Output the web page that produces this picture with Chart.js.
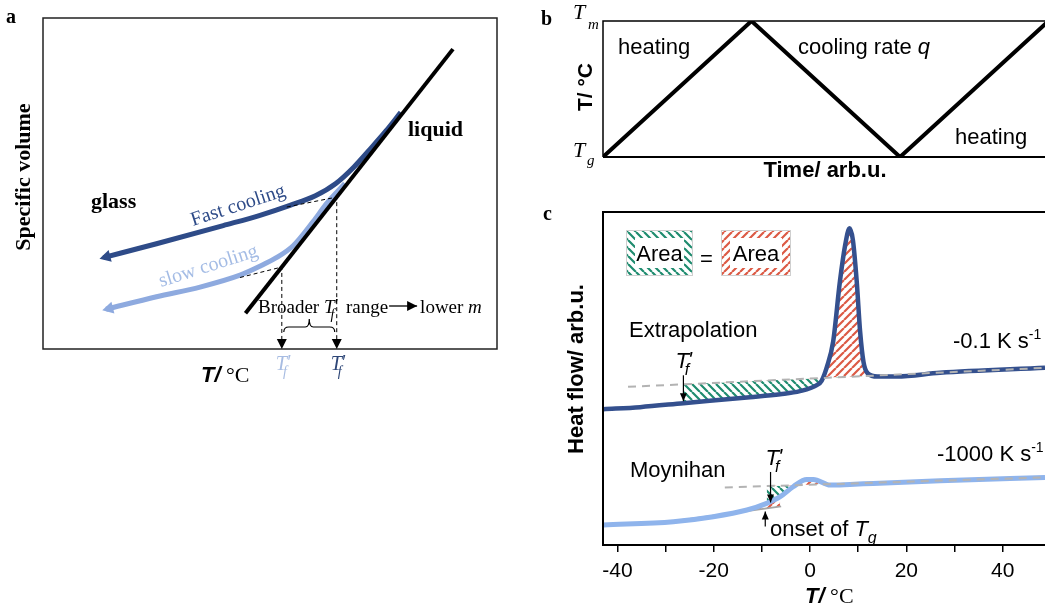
<!DOCTYPE html>
<html>
<head>
<meta charset="utf-8">
<title>Glass transition schematic</title>
<script src="https://cdn.jsdelivr.net/npm/chart.js@4.4.1/dist/chart.umd.min.js"></script>
<style>
  body { margin: 0; background: #fff; }
  #wrap { position: relative; width: 1045px; height: 613px; overflow: hidden; }
  canvas { position: absolute; }
</style>
</head>
<body>
<div id="wrap">
  <canvas id="chartA" width="540" height="400" style="left:0;top:0"></canvas>
  <canvas id="chartB" width="505" height="200" style="left:540px;top:0"></canvas>
  <canvas id="chartC" width="505" height="413" style="left:540px;top:200px"></canvas>
</div>
<script>
const SANS = '"Liberation Sans", Arial, sans-serif';
const SERIF = '"Liberation Serif", "Times New Roman", serif';

// Panel a: specific volume vs temperature (schematic units 0-100)
const liquidT = [44.6, 90.3];
const liquidV = [10.8, 90.6];
const fastT = [13.3, 25.0, 39.7, 47.8, 54.4, 60.0, 64.5, 68.5, 72.0, 75.5, 78.8];
const fastV = [27.6, 31.8, 37.3, 40.4, 43.4, 46.3, 50.0, 55.0, 60.3, 65.8, 71.5];
const slowT = [13.9, 25.0, 34.6, 43.4, 47.8, 51.3, 55.1, 59.5, 62.5, 66.5];
const slowV = [12.0, 15.8, 18.7, 22.3, 25.0, 27.5, 31.2, 38.5, 44.0, 50.0];
const tfFast = 64.7;
const tfSlow = 52.6;
const fastGlassFrom = [53.7, 42.9];
const slowGlassFrom = [43.4, 21.6];

// Panel b: temperature program (0 = Tg, 1 = Tm)
const cycleTime = [0, 1, 2, 3];
const cycleTemp = [0, 1, 0, 1];

// Panel c: DSC heat flow curves
const upperT = [-42.9, -35.3, -26.3, -12.5, -6.2, -2.1, 1.4, 2.4, 3.5, 4.8, 6.2, 7.3, 8.2, 8.9, 9.7, 10.4, 11.1, 12.0, 14.0, 18.0, 27.0, 48.8];
const upperHF = [40.8, 41.4, 42.6, 44.4, 45.3, 46.2, 48.0, 49.3, 53.5, 61.1, 79.1, 90.1, 95.1, 91.6, 79.1, 64.1, 55.0, 51.5, 50.6, 50.6, 51.7, 53.2];
const upperBaseT = [-37.8, 48.8];
const upperBaseHF = [47.5, 53.2];
const lowerT = [-42.9, -28.4, -20.1, -13.1, -9.0, -6.2, -3.5, -0.7, 0.7, 4.2, 8.3, 13.1, 27.0, 48.8];
const lowerHF = [6.0, 7.0, 8.5, 10.5, 12.5, 14.5, 17.5, 19.7, 19.7, 18.0, 18.2, 18.5, 19.3, 20.3];
const lowerBaseT = [-17.7, 48.8];
const lowerBaseHF = [17.3, 20.3];
const lowerGlassT = [-30, -6];
const lowerGlassHF = [6.8, 11.6];
const tfUpper = -26.3;
const tfLower = -8.2;
const onsetLower = -9.3;
const cTicks = [-40, -30, -20, -10, 0, 10, 20, 30, 40];
const cTickLabels = [-40, -20, 0, 20, 40];

const FAST = '#2e4b88';
const SLOW = '#8eaadf';
const C_DARK = '#34508e';
const C_LIGHT = '#8fb4ec';
const GREEN = '#1f8c6f';
const RED = '#dc5a45';

const pts = (xs, ys) => xs.map((x, i) => ({x: x, y: ys[i]}));
function valAt(xs, ys, x) {
  for (let i = 1; i < xs.length; i++) {
    if (x <= xs[i]) return ys[i-1] + (ys[i] - ys[i-1]) * (x - xs[i-1]) / (xs[i] - xs[i-1]);
  }
  return ys[ys.length - 1];
}
function between(xs, ys, lo, hi) {
  return pts(xs, ys).filter(p => p.x >= lo && p.x <= hi);
}

function hatch(color, back) {
  const c = document.createElement('canvas');
  c.width = 8; c.height = 8;
  const g = c.getContext('2d');
  g.strokeStyle = color; g.lineWidth = 2.2;
  g.beginPath();
  for (let x0 = -8; x0 <= 8; x0 += 8) {
    if (back) { g.moveTo(x0, 0); g.lineTo(x0 + 8, 8); }
    else { g.moveTo(x0, 8); g.lineTo(x0 + 8, 0); }
  }
  g.stroke();
  return g.createPattern(c, 'repeat');
}
const greenHatch = hatch(GREEN, true);
const redHatch = hatch(RED, false);

function arrowHead(ctx, tx, ty, dx, dy, len, half, color) {
  const d = Math.hypot(dx, dy), ux = dx / d, uy = dy / d;
  ctx.fillStyle = color;
  ctx.beginPath();
  ctx.moveTo(tx, ty);
  ctx.lineTo(tx - ux * len - uy * half, ty - uy * len + ux * half);
  ctx.lineTo(tx - ux * len + uy * half, ty - uy * len - ux * half);
  ctx.closePath();
  ctx.fill();
}
function arrow(ctx, x1, y1, x2, y2, color, lw, len, half) {
  ctx.strokeStyle = color; ctx.lineWidth = lw;
  ctx.beginPath(); ctx.moveTo(x1, y1); ctx.lineTo(x2, y2); ctx.stroke();
  arrowHead(ctx, x2, y2, x2 - x1, y2 - y1, len, half, color);
}
// parts: [text, font, dy]
function rich(ctx, x, y, parts, align) {
  let w = 0;
  parts.forEach(p => { ctx.font = p[1]; w += ctx.measureText(p[0]).width; });
  if (align === 'center') x -= w / 2;
  parts.forEach(p => { ctx.font = p[1]; ctx.fillText(p[0], x, y + (p[2] || 0)); x += ctx.measureText(p[0]).width; });
  return x;
}
// T with a prime and a subscript, e.g. T'f
function tPrime(ctx, x, y, size, fam, color, sub) {
  ctx.fillStyle = color;
  ctx.font = 'italic ' + size + 'px ' + fam;
  ctx.fillText('T', x, y);
  const w = ctx.measureText('T').width;
  ctx.fillText("'", x + w - 1, y - 1);
  ctx.font = 'italic ' + Math.round(size * 0.72) + 'px ' + fam;
  ctx.fillText(sub, x + w - 4, y + size * 0.3);
  return x + w + size * 0.35;
}

const base = {
  type: 'line',
  options: {
    responsive: false,
    animation: false,
    events: [],
    plugins: { legend: { display: false }, tooltip: { enabled: false } },
    elements: { point: { radius: 0 } }
  }
};

// ---------- panel a ----------
const drawA = {
  id: 'drawA',
  afterDraw(chart) {
    const {ctx, chartArea: ca, scales: {x, y}} = chart;
    ctx.save();
    ctx.strokeStyle = '#222'; ctx.lineWidth = 1.5;
    ctx.strokeRect(ca.left, ca.top, ca.right - ca.left, ca.bottom - ca.top);

    [[fastT, fastV, FAST], [slowT, slowV, SLOW]].forEach(([ts, vs, col]) => {
      const x0 = x.getPixelForValue(ts[0]), y0 = y.getPixelForValue(vs[0]);
      const x1 = x.getPixelForValue(ts[1]), y1 = y.getPixelForValue(vs[1]);
      const d = Math.hypot(x0 - x1, y0 - y1);
      arrowHead(ctx, x0 + (x0 - x1) / d * 4, y0 + (y0 - y1) / d * 4, x0 - x1, y0 - y1, 11, 6, col);
    });
    [tfFast, tfSlow].forEach(t => arrowHead(ctx, x.getPixelForValue(t), ca.bottom, 0, 1, 10, 5, '#000'));

    // brace between the two fictive temperatures
    const xs = x.getPixelForValue(tfSlow) + 2, xe = x.getPixelForValue(tfFast) - 2;
    const mid = (xs + xe) / 2, yb = 327;
    ctx.strokeStyle = '#000'; ctx.lineWidth = 1.2;
    ctx.beginPath();
    ctx.moveTo(xs, yb + 5);
    ctx.quadraticCurveTo(xs, yb, xs + 5, yb);
    ctx.lineTo(mid - 4, yb);
    ctx.quadraticCurveTo(mid, yb, mid, yb - 8);
    ctx.quadraticCurveTo(mid, yb, mid + 4, yb);
    ctx.lineTo(xe - 5, yb);
    ctx.quadraticCurveTo(xe, yb, xe, yb + 5);
    ctx.stroke();

    ctx.textBaseline = 'alphabetic';
    ctx.textAlign = 'left';
    ctx.fillStyle = '#000';
    ctx.font = 'bold 20px ' + SERIF;
    ctx.fillText('a', 6, 23);
    ctx.font = 'bold 22px ' + SERIF;
    ctx.fillText('glass', 91, 208);
    ctx.fillText('liquid', 408, 136);

    ctx.save();
    ctx.translate(30, 177);
    ctx.rotate(-Math.PI / 2);
    ctx.textAlign = 'center';
    ctx.fillText('Specific volume', 0, 0);
    ctx.restore();

    ctx.save();
    ctx.translate(193, 226); ctx.rotate(-18 * Math.PI / 180);
    ctx.fillStyle = FAST; ctx.font = '20px ' + SERIF;
    ctx.fillText('Fast cooling', 0, 0);
    ctx.restore();
    ctx.save();
    ctx.translate(161, 287); ctx.rotate(-17.6 * Math.PI / 180);
    ctx.fillStyle = '#a4bce5'; ctx.font = '20px ' + SERIF;
    ctx.fillText('slow cooling', 0, 0);
    ctx.restore();

    ctx.fillStyle = '#000';
    let cx = rich(ctx, 258, 313, [['Broader ', '19px ' + SERIF]]);
    cx = tPrime(ctx, cx, 313, 19, SERIF, '#000', 'f');
    ctx.fillStyle = '#000';
    cx = rich(ctx, cx, 313, [[' range', '19px ' + SERIF]]);
    arrow(ctx, cx + 1, 306, cx + 29, 306, '#000', 1.3, 10, 5);
    ctx.fillStyle = '#000';
    rich(ctx, cx + 32, 313, [['lower ', '19px ' + SERIF], ['m', 'italic 19px ' + SERIF]]);

    tPrime(ctx, x.getPixelForValue(tfSlow) - 6, 370, 20, SERIF, '#a7bce2', 'f');
    tPrime(ctx, x.getPixelForValue(tfFast) - 6, 370, 20, SERIF, '#2d4677', 'f');

    ctx.fillStyle = '#000';
    rich(ctx, 201, 382, [['T/', 'italic bold 22px ' + SANS], [' \u00b0C', '22px ' + SERIF]]);
    ctx.restore();
  }
};

new Chart(document.getElementById('chartA'), {
  ...base,
  data: {
    datasets: [
      { data: pts(liquidT, liquidV), borderColor: '#000', borderWidth: 4 },
      { data: [{x: fastGlassFrom[0], y: fastGlassFrom[1]}, {x: tfFast, y: valAt(liquidT, liquidV, tfFast)}, {x: tfFast, y: 0}],
        borderColor: '#000', borderWidth: 1, borderDash: [4, 3] },
      { data: [{x: slowGlassFrom[0], y: slowGlassFrom[1]}, {x: tfSlow, y: valAt(liquidT, liquidV, tfSlow)}, {x: tfSlow, y: 0}],
        borderColor: '#000', borderWidth: 1, borderDash: [4, 3] },
      { data: pts(fastT, fastV), borderColor: FAST, borderWidth: 5, cubicInterpolationMode: 'monotone' },
      { data: pts(slowT, slowV), borderColor: SLOW, borderWidth: 5, cubicInterpolationMode: 'monotone' }
    ]
  },
  options: {
    ...base.options,
    layout: { padding: { left: 43, top: 18, right: 43, bottom: 51 } },
    scales: {
      x: { type: 'linear', min: 0, max: 100, display: false },
      y: { min: 0, max: 100, display: false }
    }
  },
  plugins: [drawA]
});

// ---------- panel b ----------
const drawB = {
  id: 'drawB',
  afterDraw(chart) {
    const {ctx, chartArea: ca} = chart;
    ctx.save();
    ctx.strokeStyle = '#000';
    ctx.lineWidth = 1.5;
    ctx.beginPath();
    ctx.moveTo(ca.left, ca.bottom); ctx.lineTo(ca.left, ca.top); ctx.lineTo(ca.right, ca.top);
    ctx.stroke();
    ctx.lineWidth = 2;
    ctx.beginPath(); ctx.moveTo(ca.left, ca.bottom); ctx.lineTo(ca.right, ca.bottom); ctx.stroke();

    ctx.fillStyle = '#000';
    ctx.textBaseline = 'alphabetic';
    ctx.font = 'bold 20px ' + SERIF;
    ctx.fillText('b', 1, 25);
    rich(ctx, 33, 19, [['T', 'italic 22px ' + SERIF]]);
    rich(ctx, 48, 29, [['m', 'italic 15px ' + SERIF]]);
    rich(ctx, 33, 157, [['T', 'italic 22px ' + SERIF]]);
    rich(ctx, 47, 165, [['g', 'italic 15px ' + SERIF]]);

    ctx.font = '22px ' + SANS;
    ctx.fillText('heating', 78, 54);
    rich(ctx, 258, 54, [['cooling rate ', '22px ' + SANS], ['q', 'italic 22px ' + SANS]]);
    ctx.font = '22px ' + SANS;
    ctx.fillText('heating', 415, 144);

    ctx.font = 'bold 22px ' + SANS;
    ctx.textAlign = 'center';
    ctx.fillText('Time/ arb.u.', 285, 177);
    ctx.save();
    ctx.translate(52, 87); ctx.rotate(-Math.PI / 2);
    ctx.font = 'bold 21px ' + SANS;
    ctx.fillText('T/ \u00b0C', 0, 0);
    ctx.restore();
    ctx.restore();
  }
};

new Chart(document.getElementById('chartB'), {
  ...base,
  data: {
    datasets: [
      { data: pts(cycleTime, cycleTemp), borderColor: '#000', borderWidth: 4, borderJoinStyle: 'miter' }
    ]
  },
  options: {
    ...base.options,
    layout: { padding: { left: 63, top: 21, right: 0, bottom: 43 } },
    scales: {
      x: { type: 'linear', min: 0, max: 2.976, display: false },
      y: { min: 0, max: 1, display: false }
    }
  },
  plugins: [drawB]
});

// ---------- panel c ----------
function areaBox(ctx, bx, by, w, h, pattern) {
  ctx.fillStyle = pattern;
  ctx.fillRect(bx, by, w, h);
  ctx.fillStyle = '#fff';
  ctx.fillRect(bx + 9, by + 8, w - 18, h - 16);
  ctx.strokeStyle = '#cfcfcf'; ctx.lineWidth = 1;
  ctx.strokeRect(bx + 0.5, by + 0.5, w - 1, h - 1);
  ctx.fillStyle = '#000';
  ctx.font = '22px ' + SANS;
  ctx.textAlign = 'center';
  ctx.fillText('Area', bx + w / 2, by + h / 2 + 8);
  ctx.textAlign = 'left';
}

const drawC = {
  id: 'drawC',
  afterDraw(chart) {
    const {ctx, chartArea: ca, scales: {x, y}} = chart;
    ctx.save();
    ctx.strokeStyle = '#000'; ctx.lineWidth = 2;
    ctx.beginPath();
    ctx.moveTo(ca.left, ca.bottom); ctx.lineTo(ca.left, ca.top); ctx.lineTo(ca.right, ca.top);
    ctx.stroke();

    ctx.textBaseline = 'alphabetic';
    ctx.fillStyle = '#000';
    ctx.font = 'bold 20px ' + SERIF;
    ctx.fillText('c', 3, 20);

    areaBox(ctx, 86, 30, 67, 46, greenHatch);
    ctx.font = '22px ' + SANS;
    ctx.fillText('=', 160, 66);
    areaBox(ctx, 181, 30, 70, 46, redHatch);

    ctx.font = '22px ' + SANS;
    ctx.fillText('Extrapolation', 89, 137);
    ctx.fillText('Moynihan', 90, 277);
    rich(ctx, 413, 148, [['-0.1 K s', '22px ' + SANS], ['-1', '14px ' + SANS, -9]]);
    rich(ctx, 397, 261, [['-1000 K s', '22px ' + SANS], ['-1', '14px ' + SANS, -9]]);

    // fictive temperature markers
    const ux = x.getPixelForValue(tfUpper);
    const uBase = y.getPixelForValue(valAt(upperBaseT, upperBaseHF, tfUpper));
    const uCurve = y.getPixelForValue(valAt(upperT, upperHF, tfUpper));
    arrow(ctx, ux, uBase - 9, ux, uCurve - 2, '#000', 1.2, 8, 3.5);
    tPrime(ctx, ux - 8, uBase - 16, 22, SANS, '#000', 'f');

    const lx = x.getPixelForValue(tfLower);
    const lBase = y.getPixelForValue(valAt(lowerBaseT, lowerBaseHF, tfLower));
    const lCurve = y.getPixelForValue(valAt(lowerT, lowerHF, tfLower));
    arrow(ctx, lx, lBase - 14, lx, lCurve + 1, '#000', 1.2, 8, 3.5);
    tPrime(ctx, lx - 5, lBase - 21, 22, SANS, '#000', 'f');

    const ox = x.getPixelForValue(onsetLower);
    const oGlass = y.getPixelForValue(valAt(lowerGlassT, lowerGlassHF, onsetLower));
    arrow(ctx, ox, oGlass + 18, ox, oGlass + 3, '#000', 1.2, 8, 3.5);
    ctx.fillStyle = '#000';
    const tEnd = rich(ctx, 230, 336, [['onset of ', '22px ' + SANS], ['T', 'italic 22px ' + SANS]]);
    rich(ctx, tEnd, 343, [['g', 'italic 16px ' + SANS]]);

    ctx.font = 'bold 22px ' + SANS;
    ctx.textAlign = 'center';
    ctx.save();
    ctx.translate(43, 169); ctx.rotate(-Math.PI / 2);
    ctx.fillText('Heat flow/ arb.u.', 0, 0);
    ctx.restore();
    ctx.textAlign = 'left';
    rich(ctx, x.getPixelForValue(4), 403, [['T/', 'italic bold 22px ' + SANS], [' \u00b0C', '22px ' + SERIF]], 'center');
    ctx.restore();
  }
};

new Chart(document.getElementById('chartC'), {
  ...base,
  data: {
    datasets: [
      { data: pts(upperBaseT, upperBaseHF), borderColor: '#b3b3b3', borderWidth: 2, borderDash: [8, 6] },
      { data: pts(lowerBaseT, lowerBaseHF), borderColor: '#b3b3b3', borderWidth: 2, borderDash: [8, 6] },
      { data: pts(upperT, upperHF), borderColor: C_DARK, borderWidth: 4.5, cubicInterpolationMode: 'monotone' },
      { data: pts(lowerT, lowerHF), borderColor: C_LIGHT, borderWidth: 5, cubicInterpolationMode: 'monotone' },
      { data: pts(lowerGlassT, lowerGlassHF), borderColor: '#a5a5a5', borderWidth: 2 },
      { data: between(upperT, upperHF, tfUpper, 12.0), borderColor: 'transparent', borderWidth: 0,
        cubicInterpolationMode: 'monotone', fill: { target: 0, above: redHatch, below: greenHatch } },
      { data: between(lowerT, lowerHF, -9.0, 4.2), borderColor: 'transparent', borderWidth: 0,
        cubicInterpolationMode: 'monotone', fill: { target: 1, above: redHatch, below: greenHatch } },
      { data: between(lowerT, lowerHF, -13.1, -6.2), borderColor: 'transparent', borderWidth: 0,
        cubicInterpolationMode: 'monotone', fill: { target: 4, above: redHatch, below: 'rgba(0,0,0,0)' } }
    ]
  },
  options: {
    ...base.options,
    layout: { padding: { left: 63, top: 12, right: 0, bottom: 0 } },
    scales: {
      x: {
        type: 'linear', min: -43, max: 48.8,
        afterBuildTicks: s => { s.ticks = cTicks.map(v => ({value: v})); },
        afterFit: s => { s.height = 68; s.paddingLeft = 0; s.paddingRight = 0; },
        ticks: {
          maxRotation: 0, autoSkip: false, padding: 7, color: '#000',
          font: { family: SANS, size: 21 },
          callback: v => cTickLabels.includes(v) ? String(v) : ''
        },
        grid: { drawOnChartArea: false, drawTicks: true, tickLength: 7, color: '#000', lineWidth: 1.5 },
        border: { display: true, color: '#000', width: 2 }
      },
      y: { min: 0, max: 100, display: false }
    }
  },
  plugins: [drawC]
});
</script>
</body>
</html>
